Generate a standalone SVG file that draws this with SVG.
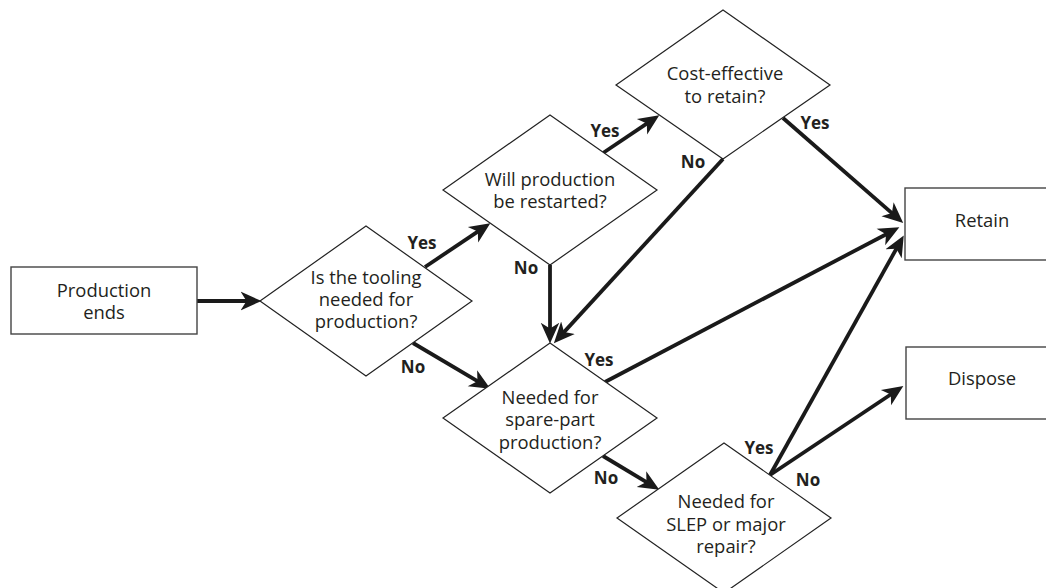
<svg xmlns="http://www.w3.org/2000/svg" width="1046" height="588" viewBox="0 0 1046 588">
<style>
.box{fill:#fff;stroke:#444;stroke-width:1.4}
.dia{fill:#fff;stroke:#222;stroke-width:1.2}
.t{font-family:"Open Sans","Liberation Sans",sans-serif;font-size:18.4px;fill:#231f20;text-anchor:middle}
.lb{font-family:"Open Sans","Liberation Sans",sans-serif;font-size:17px;font-weight:bold;fill:#231f20;text-anchor:middle}
.c{stroke:#1a1a1a;stroke-width:3.8;fill:none;marker-end:url(#ah)}
</style>
<defs>
<marker id="ah" markerUnits="userSpaceOnUse" markerWidth="22" markerHeight="22" viewBox="0 -9 19 18" refX="8" refY="0" orient="auto">
<path d="M0,-8 L18,0 L0,8 L5,0 Z" fill="#1a1a1a"/>
</marker>
</defs>
<rect width="1046" height="588" fill="#fff"/>
<g id="connectors">
<line class="c" x1="197" y1="301" x2="250" y2="301"/>
<line class="c" x1="425" y1="267" x2="480.7" y2="229.6"/>
<line class="c" x1="413" y1="343" x2="480.4" y2="382.9"/>
<line class="c" x1="603" y1="153" x2="649.7" y2="121.6"/>
<line class="c" x1="550" y1="265" x2="550" y2="332"/>
<line class="c" x1="723" y1="159" x2="561.7" y2="334.6"/>
<line class="c" x1="783" y1="118" x2="894.5" y2="215.4"/>
<line class="c" x1="605" y1="382" x2="889.1" y2="232.7"/>
<line class="c" x1="603" y1="456" x2="649.4" y2="483.9"/>
<line class="c" x1="770" y1="475" x2="898.1" y2="245.7"/>
<line class="c" x1="770" y1="475" x2="893.7" y2="392.5"/>
</g>
<g id="production-ends">
<rect class="box" x="11" y="267" width="186" height="67"/>
<text class="t" x="104" y="297">Production</text>
<text class="t" x="104" y="319">ends</text>
</g>
<g id="tooling-needed">
<polygon class="dia" points="366,226 472,301 366,376 260,301"/>
<text class="t" x="366" y="284">Is the tooling</text>
<text class="t" x="366" y="306">needed for</text>
<text class="t" x="366" y="328">production?</text>
</g>
<g id="restarted">
<polygon class="dia" points="550,115 657,190 550,265 443,190"/>
<text class="t" x="550" y="186">Will production</text>
<text class="t" x="550" y="208">be restarted?</text>
</g>
<g id="cost-effective">
<polygon class="dia" points="723,10 830,85 723,159 616,85"/>
<text class="t" x="725" y="80">Cost-effective</text>
<text class="t" x="725" y="103">to retain?</text>
</g>
<g id="spare-part">
<polygon class="dia" points="550,343 657,418 550,493 443,418"/>
<text class="t" x="550" y="404">Needed for</text>
<text class="t" x="550" y="426">spare-part</text>
<text class="t" x="550" y="449">production?</text>
</g>
<g id="slep">
<polygon class="dia" points="724,443 831,518 724,593 617,518"/>
<text class="t" x="726" y="508">Needed for</text>
<text class="t" x="726" y="531">SLEP or major</text>
<text class="t" x="726" y="553">repair?</text>
</g>
<g id="retain">
<rect class="box" x="905" y="188" width="160" height="72"/>
<text class="t" x="982" y="227">Retain</text>
</g>
<g id="dispose">
<rect class="box" x="906" y="347" width="160" height="72"/>
<text class="t" x="982" y="385">Dispose</text>
</g>
<g id="connector-labels">
<text class="lb" x="422" y="249">Yes</text>
<text class="lb" x="413" y="373">No</text>
<text class="lb" x="605" y="137">Yes</text>
<text class="lb" x="526" y="274">No</text>
<text class="lb" x="693" y="168">No</text>
<text class="lb" x="815" y="129">Yes</text>
<text class="lb" x="599" y="366">Yes</text>
<text class="lb" x="606" y="484">No</text>
<text class="lb" x="759" y="454">Yes</text>
<text class="lb" x="808" y="486">No</text>
</g>
</svg>
